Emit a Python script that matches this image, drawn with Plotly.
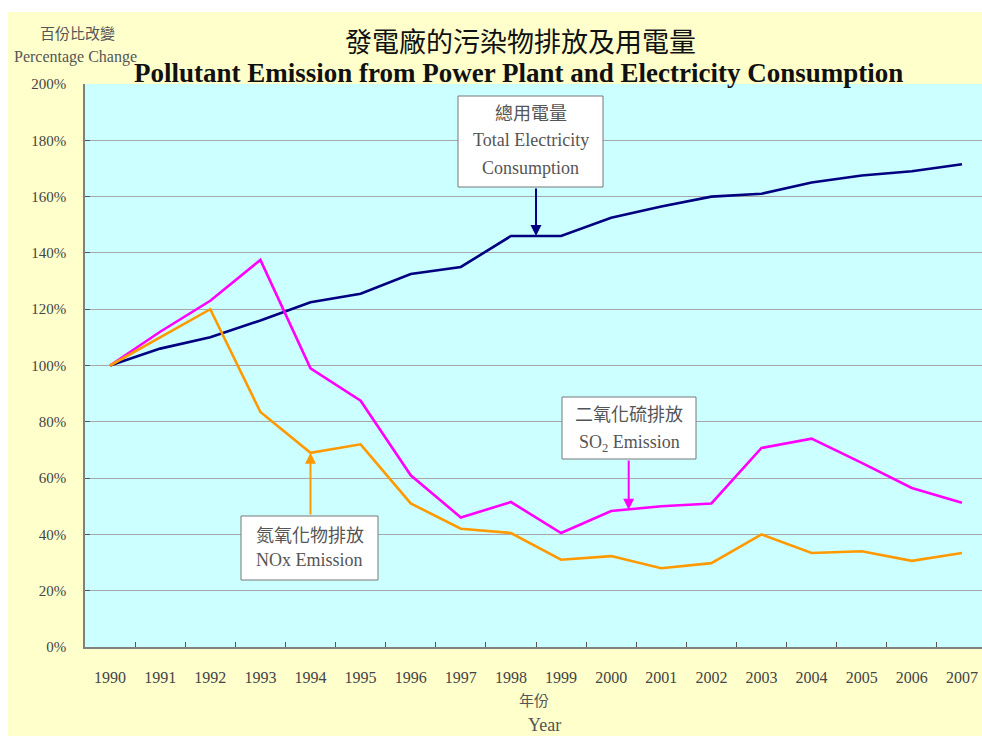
import plotly.graph_objects as go

years = [str(y) for y in range(1990, 2008)]
electricity = [100, 106, 110, 116, 122.5, 125.5, 132.5, 135, 146, 146, 152.5, 156.5, 160, 161, 165, 167.5, 169, 171.5]
so2 = [100, 112, 123, 137.5, 99, 87.5, 61, 46, 51.5, 40.5, 48.3, 50, 51, 70.7, 74, 65.4, 56.5, 51.2]
nox = [100, 110, 120, 83.5, 69, 72, 51, 42, 40.5, 31, 32.3, 28, 29.8, 40, 33.4, 34, 30.6, 33.4]
y_ticks = [0, 20, 40, 60, 80, 100, 120, 140, 160, 180, 200]
y_ticktext = [f"{v}%" for v in y_ticks]

W, H = 982, 736
L, R, T, B = 85, 982, 84, 647


def px(x):
    return (x - L) / (R - L)


def py(y):
    return (B - y) / (B - T)


SERIF = "Liberation Serif, Times New Roman, Noto Sans CJK TC, serif"
CJK = "Noto Sans CJK TC, sans-serif"

fig = go.Figure()
fig.add_trace(go.Scatter(x=years, y=electricity, mode="lines", line=dict(color="#000080", width=2.6), name="Total Electricity Consumption"))
fig.add_trace(go.Scatter(x=years, y=so2, mode="lines", line=dict(color="#FF00FF", width=2.6), name="SO2 Emission"))
fig.add_trace(go.Scatter(x=years, y=nox, mode="lines", line=dict(color="#FF9900", width=2.6), name="NOx Emission"))

shapes = [
    dict(type="rect", xref="paper", yref="paper", x0=px(0), x1=px(982), y0=py(12), y1=py(0),
         fillcolor="white", line=dict(width=0), layer="below"),
    dict(type="rect", xref="paper", yref="paper", x0=px(0), x1=px(8), y0=py(736), y1=py(0),
         fillcolor="white", line=dict(width=0), layer="below"),
]
annotations = []


def callout(box, lines, color, head_x, head_y, tail_px_y, head_px):
    l, t, r, b = box
    shapes.append(dict(type="rect", xref="paper", yref="paper", x0=px(l), x1=px(r), y0=py(b), y1=py(t),
                       fillcolor="white", line=dict(color="#777777", width=1), layer="above"))
    cx = (l + r) / 2
    for text, cy, fam, size in lines:
        annotations.append(dict(xref="paper", yref="paper", x=px(cx), y=py(cy), text=text, showarrow=False,
                                xanchor="center", yanchor="middle", font=dict(family=fam, size=size, color="#555555")))
    annotations.append(dict(xref="x", yref="y", x=head_x, y=head_y, text="", showarrow=True,
                            ax=0, ay=tail_px_y - head_px, arrowcolor=color, arrowwidth=2,
                            arrowhead=2, arrowsize=1.1, standoff=0))


def ypix(v):
    return B - v * (B - T) / 200.0


callout((458, 96, 603, 187),
        [("總用電量", 112, CJK, 18), ("Total Electricity", 140, SERIF, 18), ("Consumption", 168, SERIF, 18)],
        "#000080", 8.5, electricity[8], 187, ypix(electricity[8]))
callout((562, 397, 696, 459),
        [("二氧化硫排放", 413, CJK, 18), ("SO<sub>2</sub> Emission", 443, SERIF, 18)],
        "#FF00FF", 10.35, 48.8, 459, ypix(48.8))
callout((241, 516, 378, 580),
        [("氮氧化物排放", 534, CJK, 18), ("NOx Emission", 560, SERIF, 18)],
        "#FF9900", 4, nox[4], 516, ypix(nox[4]))

# titles
annotations += [
    dict(xref="paper", yref="paper", x=px(520), y=py(40), text="發電廠的污染物排放及用電量", showarrow=False,
         xanchor="center", yanchor="middle", font=dict(family=CJK, size=27, color="#111111")),
    dict(xref="paper", yref="paper", x=px(518), y=py(73), text="<b>Pollutant Emission from Power Plant and Electricity Consumption</b>",
         showarrow=False, xanchor="center", yanchor="middle", font=dict(family=SERIF, size=27, color="#111111")),
    dict(xref="paper", yref="paper", x=px(77), y=py(32), text="百份比改變", showarrow=False,
         xanchor="center", yanchor="middle", font=dict(family=CJK, size=15, color="#555555")),
    dict(xref="paper", yref="paper", x=px(75), y=py(57), text="Percentage Change", showarrow=False,
         xanchor="center", yanchor="middle", font=dict(family=SERIF, size=16, color="#555555")),
    dict(xref="paper", yref="paper", x=px(534), y=py(699), text="年份", showarrow=False,
         xanchor="center", yanchor="middle", font=dict(family=CJK, size=15, color="#555555")),
    dict(xref="paper", yref="paper", x=px(544), y=py(725), text="Year", showarrow=False,
         xanchor="center", yanchor="middle", font=dict(family=SERIF, size=18, color="#555555")),
]

fig.update_layout(
    width=W, height=H,
    margin=dict(l=L, r=W - R, t=T, b=H - B, pad=0),
    paper_bgcolor="#FFFFCC",
    plot_bgcolor="#CCFFFF",
    showlegend=False,
    shapes=shapes,
    annotations=annotations,
    font=dict(family=SERIF, color="#444444"),
)
fig.update_xaxes(type="category", range=[-0.5, 17.4], tickson="boundaries", ticks="inside", ticklen=5,
                 tickcolor="#555555", showline=True, linecolor="#808080", linewidth=1.5, showgrid=False,
                 tickfont=dict(family=SERIF, size=16, color="#444444"), ticklabelstandoff=15,
                 fixedrange=True, automargin=False)
fig.update_yaxes(range=[0, 200], tickvals=y_ticks, ticktext=y_ticktext, ticks="inside", ticklen=5,
                 tickcolor="#555555", showline=True, linecolor="#808080", linewidth=1.5,
                 showgrid=True, gridcolor="#A8A8A8", gridwidth=1, zeroline=False,
                 tickfont=dict(family=SERIF, size=15, color="#444444"), ticklabelstandoff=14,
                 automargin=False)

fig.write_html("out.html", config={"displayModeBar": False})

# remove the browser's default page margin so the figure sits at the window's top-left corner
with open("out.html", "r", encoding="utf-8") as f:
    html = f.read()
html = html.replace("<head>", "<head><style>html,body{margin:0;padding:0;overflow:hidden;}</style>", 1)
with open("out.html", "w", encoding="utf-8") as f:
    f.write(html)
